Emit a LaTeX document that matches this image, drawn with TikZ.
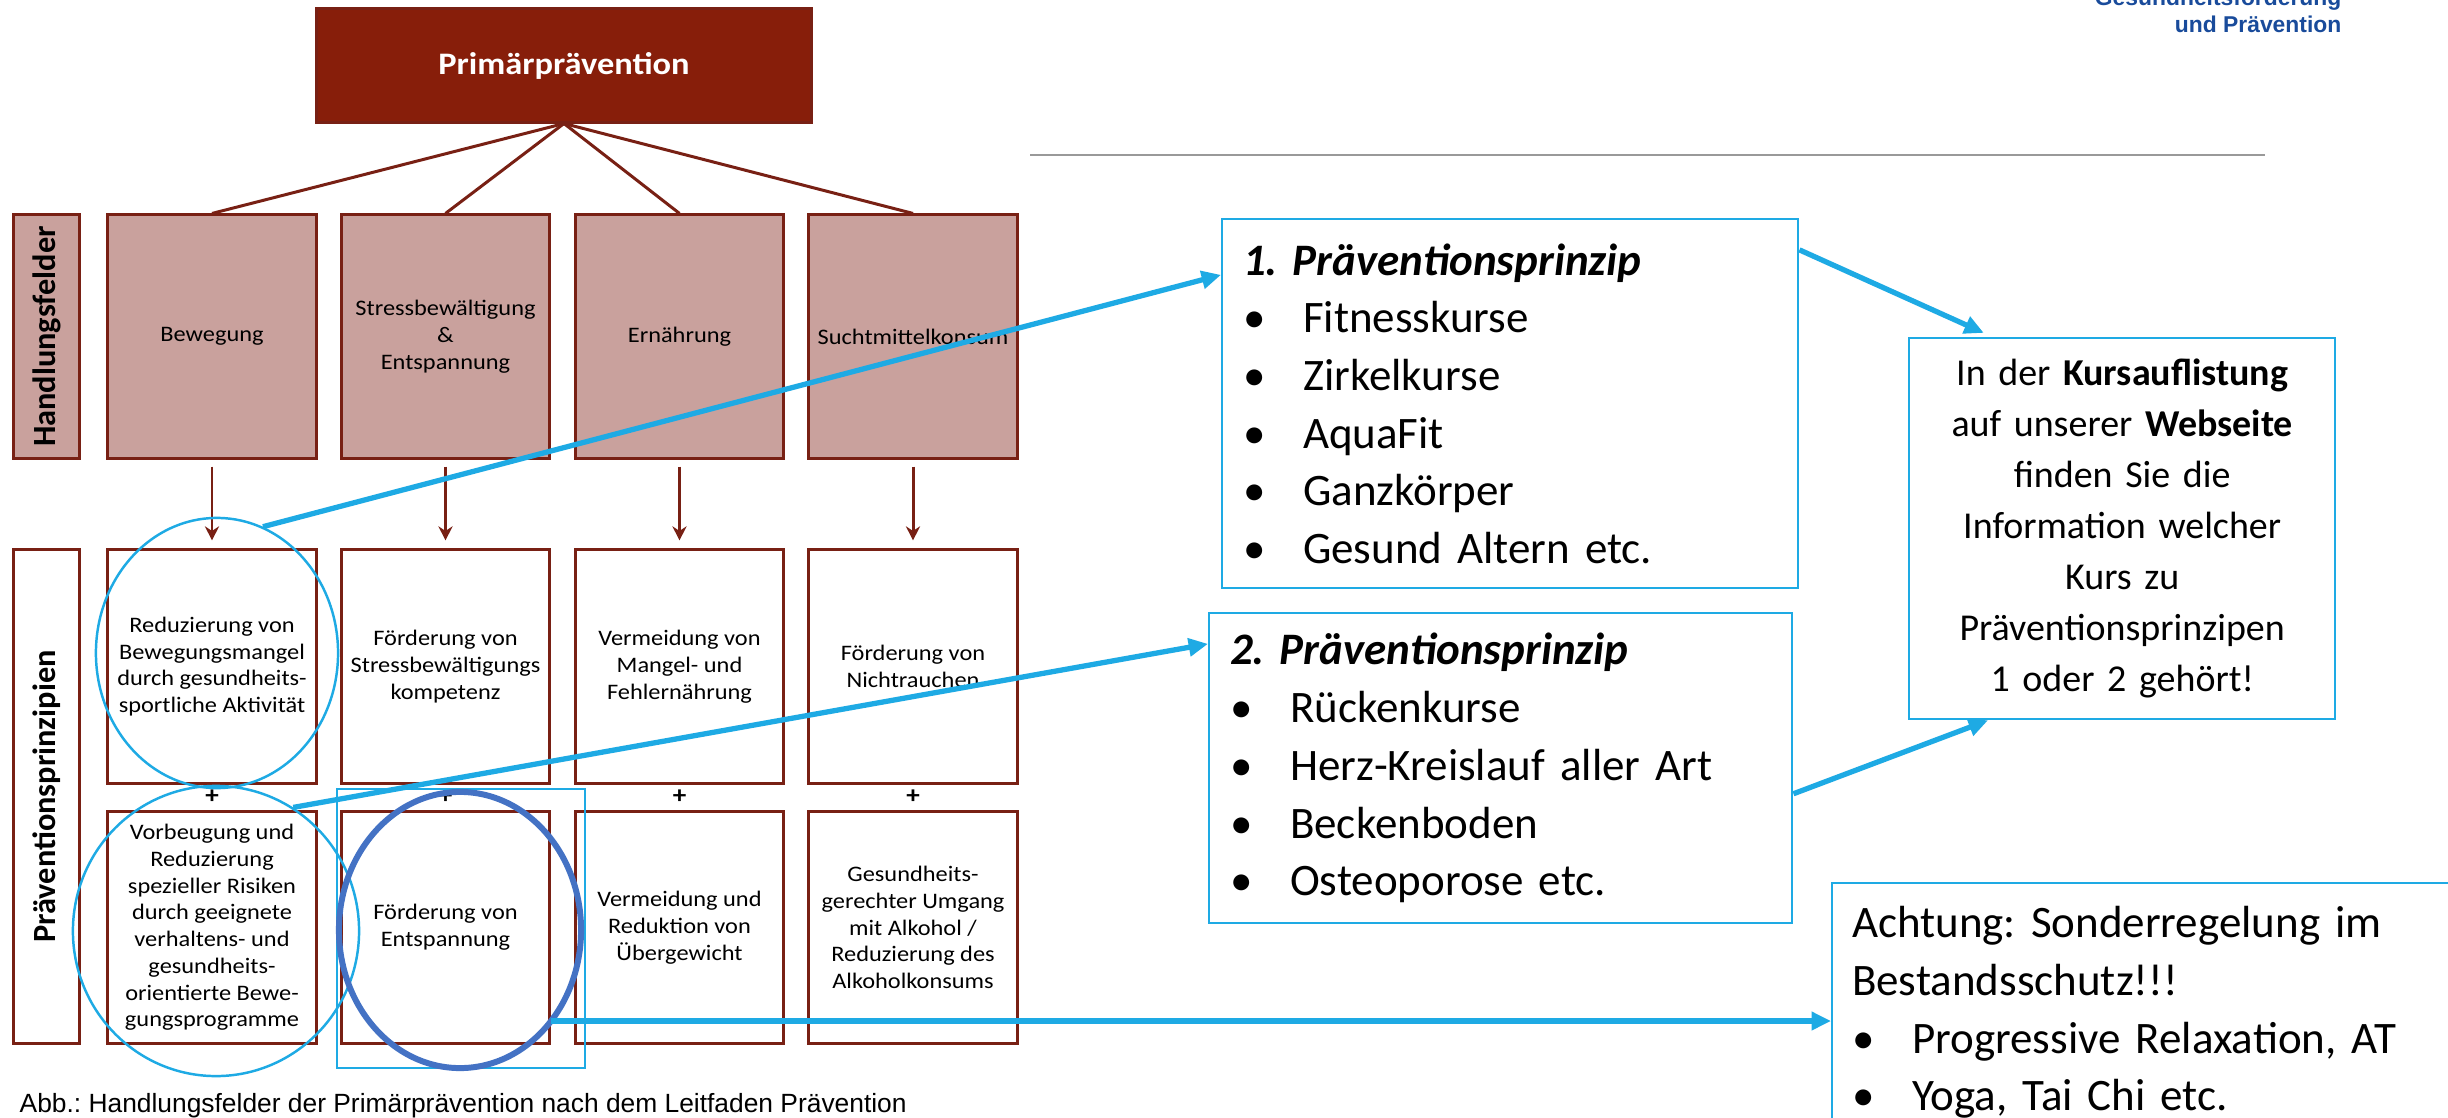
\documentclass[tikz,border=0pt]{standalone}
\usepackage{fontspec}
\setmainfont{Carlito}
\newfontfamily\diafont{Carlito}[FakeStretch=1.1]
\newfontfamily\arialfont{Liberation Sans}
\usepackage{xcolor}
\usepackage{tikz}
\usetikzlibrary{shapes.geometric,arrows.meta}
\definecolor{braun}{RGB}{120,32,20}
\definecolor{titelrot}{RGB}{135,30,10}
\definecolor{rosa}{RGB}{201,161,157}
\definecolor{hellblau}{RGB}{30,170,228}
\definecolor{dunkelblau}{RGB}{68,114,196}
\definecolor{kopfblau}{RGB}{25,75,155}
\newcommand{\bul}{\makebox[0.6cm][l]{\textbullet}}
\frenchspacing

\begin{document}
\begin{tikzpicture}[x=0.01cm,y=-0.01cm]
    \tikzstyle{feld}=[draw=braun,line width=0.85pt,fill=rosa,minimum width=2.08cm,inner sep=0pt,align=center,font=\diafont\fontsize{6.3pt}{7.6pt}\selectfont]
    \tikzstyle{prinzip}=[feld,fill=white]
    \tikzstyle{seite}=[draw=braun,line width=0.85pt,rotate=90,minimum height=0.65cm,inner sep=0pt,font=\bfseries\fontsize{9.2pt}{10pt}\selectfont]
    \tikzstyle{verbund}=[inner sep=0pt,font=\diafont\bfseries\fontsize{7pt}{8pt}\selectfont]
    \tikzstyle{faecher}=[draw=braun,line width=0.85pt]
    \tikzstyle{braunpfeil}=[draw=braun,line width=0.85pt,-{Stealth[length=4pt,width=4pt]},shorten <=0.07cm,shorten >=0.08cm]
    \tikzstyle{blaubox}=[draw=hellblau,line width=0.6pt,fill=white,inner ysep=0pt,font=\fontsize{12.8pt}{16.4pt}\selectfont]
    \tikzstyle{ring}=[ellipse,draw=hellblau,line width=0.7pt,inner sep=0pt]
    \tikzstyle{pfeil}=[draw=hellblau,line width=1.5pt,-{Triangle[length=5.5pt,width=5pt]}]

    \useasboundingbox (0,0) rectangle (2448,1118);
    \fill[white] (0,0) rectangle (2448,1118);
    \clip (0,0) rectangle (2448,1118);

    \begin{scope}

    \node[draw=braun,line width=0.85pt,fill=titelrot,minimum width=4.94cm,minimum height=1.13cm,text=white,font=\diafont\bfseries\fontsize{8.9pt}{10pt}\selectfont](praev) at (564,65.5) {Primärprävention};

    \node[seite,fill=rosa,minimum width=2.43cm](hfseite) at (46.5,336.5) {Handlungsfelder};
    \node[seite,fill=white,minimum width=4.93cm](ppseite) at (46.5,796.5) {Präventionsprinzipien};

    \node[feld,minimum height=2.43cm](1bewegung) at (212,336.5) {Bewegung};
    \node[feld,minimum height=2.43cm](1stress) at (445.5,336.5) {Stressbewältigung\\\&\\Entspannung};
    \node[feld,minimum height=2.43cm](1ernaehrung) at (679.5,336.5) {Ernährung};
    \node[feld,minimum height=2.43cm](1sucht) at (913,336.5) {Suchtmittelkonsum};

    \draw[faecher] (praev.south) -- (1bewegung.north);
    \draw[faecher] (praev.south) -- (1stress.north);
    \draw[faecher] (praev.south) -- (1ernaehrung.north);
    \draw[faecher] (praev.south) -- (1sucht.north);

    \node[prinzip,minimum height=2.33cm](2bewegung) at (212,666.5) {Reduzierung von\\Bewegungsmangel\\durch gesundheits-\\sportliche Aktivität};
    \node[prinzip,minimum height=2.33cm](2stress) at (445.5,666.5) {Förderung von\\Stressbewältigungs\\kompetenz};
    \node[prinzip,minimum height=2.33cm](2ernaehrung) at (679.5,666.5) {Vermeidung von\\Mangel- und\\Fehlernährung};
    \node[prinzip,minimum height=2.33cm](2sucht) at (913,666.5) {Förderung von\\Nichtrauchen};

    \draw[braunpfeil] (1bewegung) -- (2bewegung);
    \draw[braunpfeil] (1stress) -- (2stress);
    \draw[braunpfeil] (1ernaehrung) -- (2ernaehrung);
    \draw[braunpfeil] (1sucht) -- (2sucht);

    \node[verbund](plusbewegung) at (212,797) {+};
    \node[verbund](plusstress) at (445.5,797) {+};
    \node[verbund](plusernaehrung) at (679.5,797) {+};
    \node[verbund](plussucht) at (913,797) {+};

    \node[prinzip,minimum height=2.31cm](3bewegung) at (212,927.5) {Vorbeugung und\\Reduzierung\\spezieller Risiken\\durch geeignete\\verhaltens- und\\gesundheits-\\orientierte Bewe-\\gungsprogramme};
    \node[prinzip,minimum height=2.31cm](3entspannung) at (445.5,927.5) {Förderung von\\Entspannung};
    \node[prinzip,minimum height=2.31cm](3ernaehrung) at (679.5,927.5) {Vermeidung und\\Reduktion von\\Übergewicht};
    \node[prinzip,minimum height=2.31cm](3sucht) at (913,927.5) {Gesundheits-\\gerechter Umgang\\mit Alkohol /\\Reduzierung des\\Alkoholkonsums};

    \node[anchor=base west,inner sep=0pt,font=\arialfont\fontsize{7.5pt}{8pt}\selectfont](quelle) at (19,1112) {Abb.: Handlungsfelder der Primärprävention nach dem Leitfaden Prävention};

    \end{scope}

    \node[anchor=base east,inner sep=0pt,text=kopfblau,font=\arialfont\bfseries\fontsize{6.5pt}{8pt}\selectfont](kopfoben) at (2342,5) {Gesundheitsförderung};
    \node[anchor=base east,inner sep=0pt,text=kopfblau,font=\arialfont\bfseries\fontsize{6.5pt}{8pt}\selectfont](kopfunten) at (2342,32) {und Prävention};
    \draw[draw=gray!80,line width=0.6pt] (1030,155) -- (2265,155);

    \node[ring,minimum width=2.42cm,minimum height=2.70cm](1ring) at (217,653) {};
    \node[ring,minimum width=2.86cm,minimum height=2.90cm](2ring) at (216,931) {};
    \node[draw=hellblau,line width=0.5pt,minimum width=2.48cm,minimum height=2.79cm,inner sep=0pt](markierung) at (461,928.5) {};
    \node[ellipse,draw=dunkelblau,line width=1.7pt,minimum width=2.42cm,minimum height=2.76cm,inner sep=0pt](3ring) at (460,930) {};

    \node[blaubox,anchor=north west,text width=5.34cm,inner xsep=0.21cm,minimum height=3.69cm,align=left](1prinzip) at (1221,218) {\textbf{\textit{1. Präventionsprinzip}}\\\bul Fitnesskurse\\\bul Zirkelkurse\\\bul AquaFit\\\bul Ganzkörper\\\bul Gesund Altern etc.};
    \node[blaubox,anchor=north west,text width=5.41cm,inner xsep=0.21cm,minimum height=3.10cm,align=left](2prinzip) at (1208,612) {\textbf{\textit{2. Präventionsprinzip}}\\\bul Rückenkurse\\\bul Herz-Kreislauf aller Art\\\bul Beckenboden\\\bul Osteoporose etc.};
    \node[blaubox,anchor=north west,text width=3.9cm,inner xsep=0.18cm,minimum height=3.81cm,align=center,font=\fontsize{10.8pt}{14.5pt}\selectfont](kursinfo) at (1908,337) {In der \textbf{Kursauflistung}\\auf unserer \textbf{Webseite}\\finden Sie die\\Information welcher\\Kurs zu\\Präventionsprinzipen\\1 oder 2 gehört!};
    \node[blaubox,anchor=north west,text width=6.6cm,inner xsep=0.2cm,inner ysep=0.235cm,align=left](achtung) at (1831,882) {Achtung: Sonderregelung im\\Bestandsschutz!!!\\\bul Progressive Relaxation, AT\\\bul Yoga, Tai Chi etc.};

    \coordinate (entspaus) at (3entspannung.east |- 0,1021);

    \draw[pfeil] (1ring.70) -- (1prinzip.156);
    \draw[pfeil] (2ring.58) -- (2prinzip.157);
    \draw[pfeil,shorten >=0.1cm] (1prinzip.28) -- (kursinfo.124);
    \draw[pfeil] (2prinzip.-5) -- (kursinfo.235);
    \draw[pfeil] (entspaus) -- (entspaus -| achtung.west);

\end{tikzpicture}
\end{document}
